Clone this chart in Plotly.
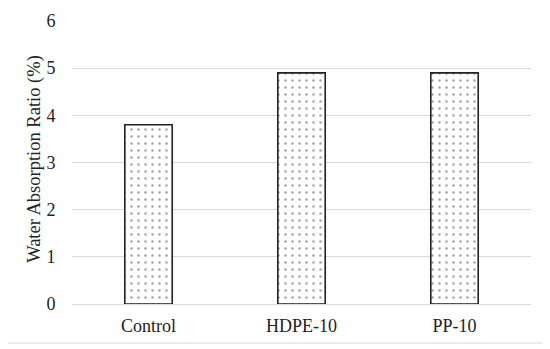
import plotly.graph_objects as go

categories = ["Control", "HDPE-10", "PP-10"]
values = [3.8, 4.9, 4.9]
y_ticks = [0, 1, 2, 3, 4, 5, 6]
y_title = "Water Absorption Ratio (%)"

fig = go.Figure()
fig.add_trace(go.Bar(
    x=categories, y=values,
    marker=dict(
        color="white",
        line=dict(color="#222222", width=1.6),
        pattern=dict(shape=".", size=7, solidity=0.1, fgcolor="#444444", bgcolor="white"),
    ),
    width=0.31,
))

font = dict(family="Liberation Serif, Times New Roman, serif", size=18, color="#222222")
# page body has an 8px margin; figure is sized so plot area lands where the reference has it
fig.update_layout(
    width=542, height=341,
    margin=dict(l=64, r=19, t=13, b=45, autoexpand=False),
    paper_bgcolor="white", plot_bgcolor="white",
    font=font,
    showlegend=False,
    xaxis=dict(showgrid=False, showline=False, ticks="outside", ticklen=5, automargin=False,
               tickcolor="rgba(0,0,0,0)", tickfont=font),
    yaxis=dict(range=[0, 6], tickvals=y_ticks, showgrid=True, gridcolor="#d9d9d9", gridwidth=1,
               zeroline=True, zerolinecolor="#d9d9d9", zerolinewidth=1, showline=False,
               ticks="outside", ticklen=12, tickcolor="rgba(0,0,0,0)", tickfont=font, automargin=False),
    annotations=[dict(text=y_title, textangle=-90, xref="paper", yref="paper",
                      x=-0.0806, y=0.513, xanchor="center", yanchor="middle",
                      showarrow=False, font=dict(font, size=18.5))],
    shapes=[dict(type="rect", xref="paper", yref="paper", x0=-0.148, x1=1.033, y0=-0.138, y1=1.0636,
                 line=dict(color="#d9d9d9", width=1), fillcolor="rgba(0,0,0,0)", layer="below")],
)
fig.write_html("out.html")
